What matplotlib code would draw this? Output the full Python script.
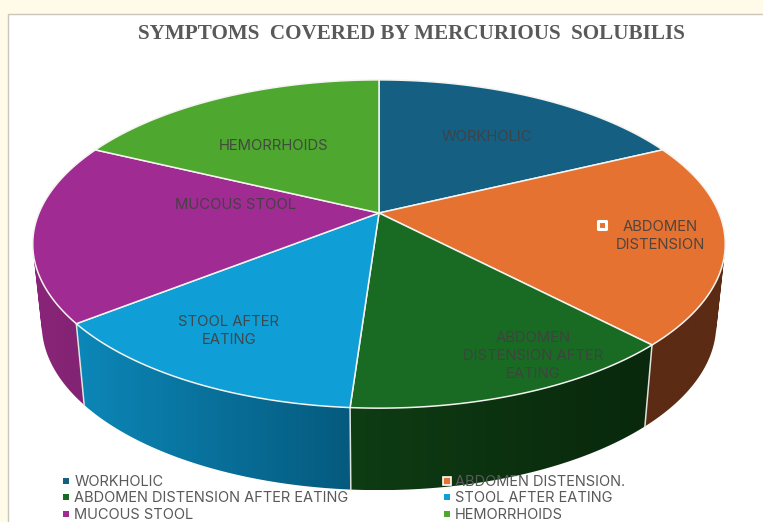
import numpy as np
import matplotlib
matplotlib.use("Agg")
import matplotlib.pyplot as plt
from matplotlib.lines import Line2D
from matplotlib.patches import Rectangle, PathPatch
from matplotlib.path import Path
from matplotlib.colors import LinearSegmentedColormap

categories = ["WORKHOLIC", "ABDOMEN DISTENSION.", "ABDOMEN DISTENSION AFTER EATING",
              "STOOL AFTER EATING", "MUCOUS STOOL", "HEMORRHOIDS"]
values = [17.9, 19.9, 13.3, 13.3, 17.7, 17.9]
slice_labels = ["WORKHOLIC", "ABDOMEN\nDISTENSION", "ABDOMEN\nDISTENSION AFTER\nEATING",
                "STOOL AFTER\nEATING", "MUCOUS STOOL", "HEMORRHOIDS"]
label_xy = [(487, 137), (660, 236), (533, 356), (229, 331), (236, 205), (274, 146)]
top_colors = ["#156082", "#E67231", "#196B24", "#0F9ED5", "#A02B93", "#4EA72E"]
wall_left = ["#0d4a66", "#5c2b14", "#0e3c13", "#0c87b8", "#8a2579", "#3c8224"]
wall_right = ["#0d4a66", "#5c2b14", "#09280c", "#055a7e", "#7f2270", "#3c8224"]

CX, CY = 379.0, 213.0
A, B, K = 340.0, 118.0, 0.189
DEPTH, SHRINK = 80.0, 0.974


def project(theta, r=1.0):
    u, v = r * np.sin(theta), r * np.cos(theta)
    w = 1 + K * v
    return CX + A * u / w, (CY - B * v) / w


def project_low(theta):
    x, y = project(theta)
    return CX + SHRINK * (x - CX), y + DEPTH + 2 * np.maximum(-np.cos(theta), 0)


def wall_path(x0, y0, x1, y1):
    """Union of small quads, all wound the same way, so nothing cancels out."""
    verts, codes = [], []
    for j in range(len(x0) - 1):
        q = np.array([(x0[j], y0[j]), (x0[j + 1], y0[j + 1]), (x1[j + 1], y1[j + 1]), (x1[j], y1[j])])
        x, y = q[:, 0], q[:, 1]
        if np.dot(x, np.roll(y, 1)) - np.dot(y, np.roll(x, 1)) < 0:
            q = q[::-1]
        verts += list(q) + [q[0]]
        codes += [Path.MOVETO, Path.LINETO, Path.LINETO, Path.LINETO, Path.CLOSEPOLY]
    return Path(np.array(verts), codes)


fig = plt.figure(figsize=(7.63, 5.22), dpi=100, facecolor="#FFFBE8")
ax = fig.add_axes([0, 0, 1, 1])
ax.axis("off")
ax.add_patch(Rectangle((7.5, 13.5), 770, 520, fc="white", ec="#C9C7BC", lw=1, zorder=0))

edges = np.concatenate([[0], np.cumsum(values)]) / np.sum(values) * 2 * np.pi

# side walls: one gradient image per slice, clipped to the wall outline
for i in range(len(values)):
    th = np.linspace(edges[i], edges[i + 1], 121)
    x0, y0 = project(th)
    x1, y1 = project_low(th)
    path = wall_path(x0, y0, x1, y1)
    clip = PathPatch(path, fc="none", ec="none", transform=ax.transData)
    ax.add_patch(clip)
    cmap = LinearSegmentedColormap.from_list("w", [wall_left[i], wall_right[i]])
    xs, ys = path.vertices[:, 0], path.vertices[:, 1]
    im = ax.imshow(np.linspace(0, 1, 256)[None, :], cmap=cmap, aspect="auto", zorder=2,
                   extent=(xs.min(), xs.max(), ys.max(), ys.min()), interpolation="bilinear")
    im.set_clip_path(clip)

for i in range(len(values)):
    ex0, ey0 = project(edges[i])
    ex1, ey1 = project_low(edges[i])
    if np.cos(edges[i]) < 0.3:
        ax.plot([ex0, ex1], [ey0, ey1], color="#DDE3DD", lw=1.1, zorder=3)

# top faces
for i in range(len(values)):
    th = np.linspace(edges[i], edges[i + 1], 120)
    x, y = project(th)
    cx, cy = project(0.0, 0.0)
    ax.fill(np.r_[cx, x], np.r_[cy, y], fc=top_colors[i], ec="#F4F4F0", lw=1.1, zorder=4, joinstyle="round")

for lab, (lx, ly), in zip(slice_labels, label_xy):
    ax.text(lx, ly, lab, ha="center", va="center", fontsize=10.7, family="Inter",
            color="#404040", alpha=0.9, linespacing=1.39, zorder=6)
ax.scatter([601.5], [225], marker="s", s=32, fc=top_colors[1], ec="white", lw=2.2, zorder=7)

ax.text(411.5, 34, "SYMPTOMS  COVERED BY MERCURIOUS  SOLUBILIS", ha="center", va="center",
        fontsize=15.25, family="Liberation Serif", weight="bold", color="#595959", zorder=6)

ax.set_xlim(0, 763)
ax.set_ylim(522, 0)

order = [0, 2, 4, 1, 3, 5]
handles = [Line2D([], [], ls="", marker="s", ms=4.6 if k != 1 else 5.5, mfc=top_colors[k],
                  mec="white" if k == 1 else top_colors[k], mew=1.2 if k == 1 else 0)
           for k in order]
leg = ax.legend(handles, [categories[k] for k in order], ncol=2, frameon=False,
                loc="upper left", bbox_to_anchor=(62 / 763, 1 - 475 / 522),
                borderaxespad=0, borderpad=0, labelcolor="#595959",
                labelspacing=0.17, handlelength=0.6, handletextpad=0.25, columnspacing=6.45,
                prop={"family": "Inter", "size": 10.5})
leg.set_zorder(8)
fig.savefig("out.png", dpi=100, facecolor=fig.get_facecolor())
